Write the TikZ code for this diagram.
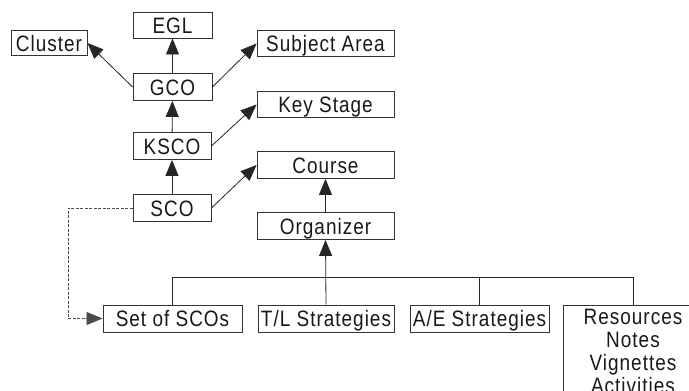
\documentclass[tikz,border=0pt]{standalone}
\usepackage{fontspec}
\setmainfont{Liberation Sans}[FakeStretch=0.85,LetterSpace=4.5]
\usetikzlibrary{arrows.meta}
\begin{document}
\begin{tikzpicture}[x=1pt,y=-1pt,
  box/.style={draw=black!80,line width=0.9pt,inner sep=0pt,text height=16pt,text depth=0pt,
    font=\fontsize{22.3}{23}\selectfont,text=black!90},
  conn/.style={draw=black!85,line width=0.8pt},
  arr/.style={conn,-{Triangle[length=16pt,width=13pt]}},
  dashconn/.style={draw=black!70,line width=0.8pt,dash pattern=on 3pt off 1.5pt,-{Triangle[length=16pt,width=13pt]}}]
\useasboundingbox[fill=white] (0,0) rectangle (689,391);
\node[box,minimum width=79pt,minimum height=26pt] (egl) at (172.5,25) {EGL};
\node[box,minimum width=76pt,minimum height=25pt] (cluster) at (49,43) {Cluster};
\node[box,minimum width=137pt,minimum height=26pt] (subj) at (325.5,43.5) {Subject Area};
\node[box,minimum width=79pt,minimum height=27pt] (gco) at (172.5,87) {GCO};
\node[box,minimum width=137pt,minimum height=26pt] (ks) at (325.5,104.5) {Key Stage};
\node[box,minimum width=78pt,minimum height=27pt] (ksco) at (172,146) {KSCO};
\node[box,minimum width=137pt,minimum height=27pt] (course) at (325.5,165) {Course};
\node[box,minimum width=78pt,minimum height=27pt] (sco) at (172,208) {SCO};
\node[box,minimum width=137pt,minimum height=27pt] (org) at (325.5,226) {Organizer};
\node[box,minimum width=139pt,minimum height=27pt] (sets) at (172.5,318.5) {Set of SCOs};
\node[box,minimum width=136pt,minimum height=27pt] (tl) at (326,318.5) {T/L Strategies};
\node[box,minimum width=139pt,minimum height=27pt] (ae) at (479.5,318.5) {A/E Strategies};
\node[box,anchor=north,minimum width=140pt,align=center,text height=,inner ysep=4pt] (res) at (633,305)
  {Resources\\Notes\\Vignettes\\Activities\\ \\ };
\draw[arr] (gco) -- (egl);
\draw[arr] (gco.west) -- (cluster.east);
\draw[arr] (gco.east) -- (subj.west);
\draw[arr] (ksco) -- (gco);
\draw[arr] (ksco.east) -- (ks.west);
\draw[arr] (sco) -- (ksco);
\draw[arr] (sco.east) -- (course.west);
\draw[arr] (org) -- (course);
\coordinate (bus) at (0,277);
\draw[conn] (sets.north) -- (sets.north |- bus) -- (res.north |- bus) -- (res.north);
\draw[conn] (ae.north) -- (ae.north |- bus);
\draw[arr] (tl.north) -- (org.south);
\coordinate (bend) at (68,208);
\draw[dashconn] (sco.west) -- (bend) |- (sets.west);
\end{tikzpicture}
\end{document}
